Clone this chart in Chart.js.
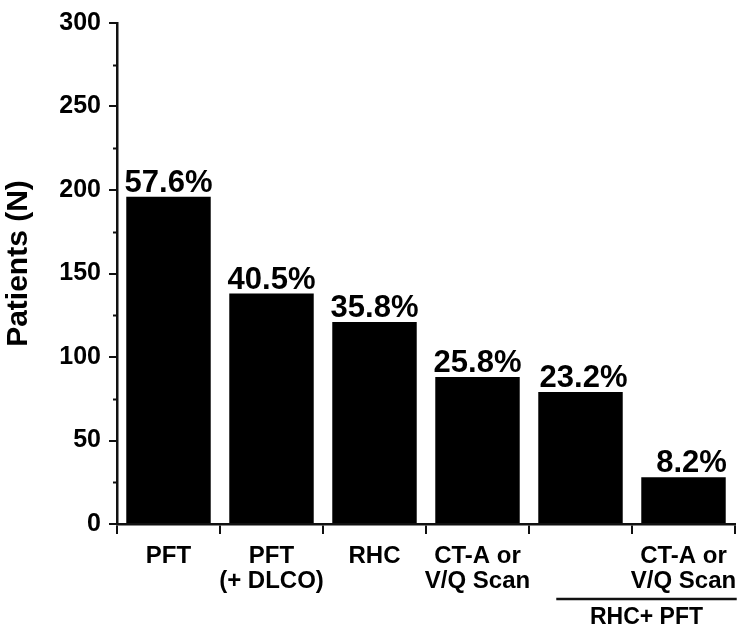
<!DOCTYPE html>
<html>
<head>
<meta charset="utf-8">
<script src="https://cdn.jsdelivr.net/npm/chart.js@4"></script>
<style>
  html, body { margin: 0; padding: 0; background: #fff; }
  #wrap { width: 750px; height: 631px; }
</style>
</head>
<body>
<div id="wrap"><canvas id="chart" width="750" height="631"></canvas></div>
<script>
// chart data
const categories = [['PFT'], ['PFT', '(+ DLCO)'], ['RHC'], ['CT-A or', 'V/Q Scan'], [''], ['CT-A or', 'V/Q Scan']];
const patients = [196, 138, 121, 88, 79, 28];
const percentLabels = ['57.6%', '40.5%', '35.8%', '25.8%', '23.2%', '8.2%'];
const groupLabel = 'RHC+ PFT';
const groupRange = [4, 5];
const yTitle = 'Patients (N)';
const yTicks = [0, 50, 100, 150, 200, 250, 300];
const yMinorTicks = [25, 75, 125, 175, 225, 275];

const FONT = "'Liberation Sans', Arial, sans-serif";

// y title, percent labels, minor ticks and the RHC+PFT bracket
const extrasPlugin = {
  id: 'extras',
  afterDraw(chart) {
    const ctx = chart.ctx;
    const x = chart.scales.x;
    const y = chart.scales.y;
    const meta = chart.getDatasetMeta(0);

    ctx.save();
    // minor ticks
    ctx.strokeStyle = '#111';
    ctx.lineWidth = 2;
    yMinorTicks.forEach(v => {
      const py = Math.round(y.getPixelForValue(v)) + 0.5;
      ctx.beginPath();
      ctx.moveTo(x.left - 4, py);
      ctx.lineTo(x.left, py);
      ctx.stroke();
    });

    // axis title
    ctx.fillStyle = '#000';
    ctx.save();
    ctx.translate(27, (y.top + y.bottom) / 2 - 10);
    ctx.rotate(-Math.PI / 2);
    ctx.font = 'bold 30px ' + FONT;
    ctx.textAlign = 'center';
    ctx.textBaseline = 'alphabetic';
    ctx.fillText(yTitle, 0, 0);
    ctx.restore();

    // percentages above bars
    ctx.font = 'bold 31px ' + FONT;
    ctx.textAlign = 'center';
    ctx.textBaseline = 'alphabetic';
    meta.data.forEach((bar, i) => {
      ctx.fillText(percentLabels[i], bar.x + (i === 5 ? 8 : i === 4 ? 3 : 0), bar.y - 5);
    });

    // group bracket under the last two categories
    const b0 = meta.data[groupRange[0]];
    const b1 = meta.data[groupRange[1]];
    const gx0 = b0.x - b0.width / 2 + 18;
    const gx1 = b1.x + b1.width / 2 + 11;
    const gy = x.bottom - 32;
    ctx.lineWidth = 2.5;
    ctx.beginPath();
    ctx.moveTo(gx0, gy);
    ctx.lineTo(gx1, gy);
    ctx.stroke();
    ctx.font = 'bold 23px ' + FONT;
    ctx.textBaseline = 'middle';
    ctx.fillText(groupLabel, (gx0 + gx1) / 2, gy + 19);
    ctx.restore();
  }
};

new Chart(document.getElementById('chart'), {
  type: 'bar',
  data: {
    labels: categories,
    datasets: [{
      data: patients,
      backgroundColor: '#000',
      borderColor: '#000',
      borderWidth: 0,
      barPercentage: 0.82,
      categoryPercentage: 1.0
    }]
  },
  options: {
    responsive: false,
    animation: false,
    layout: { padding: { top: 15, right: 15, bottom: 0, left: 0 } },
    plugins: {
      legend: { display: false },
      tooltip: { enabled: false }
    },
    scales: {
      x: {
        offset: true,
        border: { display: true, color: '#111', width: 2.5 },
        grid: { drawOnChartArea: false, color: '#111', lineWidth: 2, tickLength: 10 },
        ticks: {
          color: '#000',
          padding: 10,
          maxRotation: 0,
          autoSkip: false,
          font: { family: FONT, size: 24, weight: 'bold', lineHeight: 1.05 }
        },
        afterFit(scale) { scale.height = 107; }
      },
      y: {
        min: 0,
        max: 300,
        afterBuildTicks(scale) { scale.ticks = yTicks.map(v => ({ value: v })); },
        border: { display: true, color: '#111', width: 2.5 },
        grid: { drawOnChartArea: false, color: '#111', lineWidth: 2, tickLength: 8 },
        ticks: {
          color: '#000',
          padding: 8,
          font: { family: FONT, size: 25, weight: 'bold' }
        },
        afterFit(scale) { scale.width = 117; }
      }
    }
  },
  plugins: [extrasPlugin]
});
</script>
</body>
</html>
